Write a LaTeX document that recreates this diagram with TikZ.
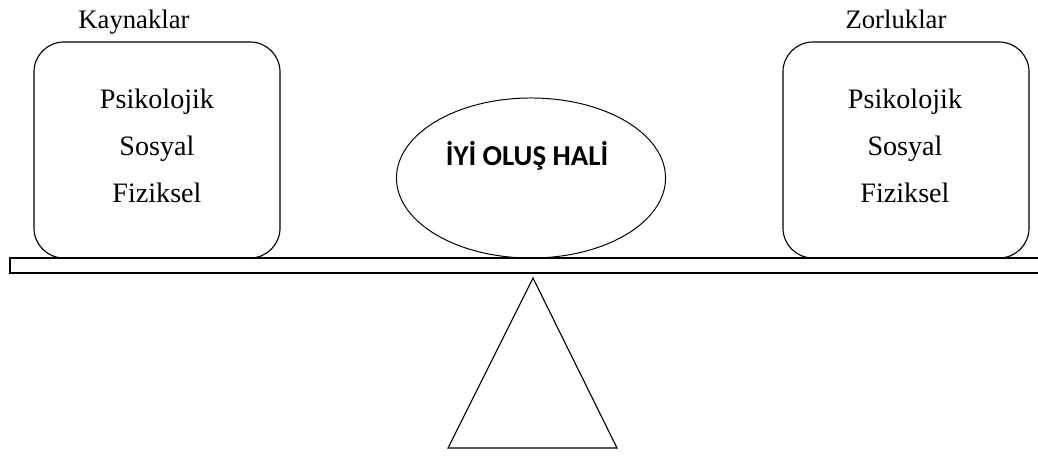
\documentclass[tikz,border=0pt]{standalone}
\usepackage{fontspec}
\setmainfont{Liberation Serif}
\newfontfamily\statefont{Carlito}
\usetikzlibrary{shapes.geometric}
\tikzset{
  panel/.style={draw,line width=0.8pt,rectangle,rounded corners=0.75cm,minimum width=6.15cm,minimum height=5.4cm},
  item/.style={anchor=base,font=\fontsize{20}{23}\selectfont,inner sep=0pt},
  title/.style={anchor=base,font=\fontsize{19}{22}\selectfont,inner sep=0pt}
}
\begin{document}
\begin{tikzpicture}[x=0.025cm,y=-0.025cm]
  \useasboundingbox (0,0) rectangle (1038,455);
  \node[panel] (left) at (157,150) {};
  \node[panel] (right) at (906,150) {};
  \node[title] (lefttitle) at (134,28) {Kaynaklar};
  \node[title] (righttitle) at (896,28) {Zorluklar};
  \node[item] (l1) at (157,108) {Psikolojik};
  \node[item] (l2) at (157,155) {Sosyal};
  \node[item] (l3) at (157,202) {Fiziksel};
  \node[item] (r1) at (905,108) {Psikolojik};
  \node[item] (r2) at (905,155) {Sosyal};
  \node[item] (r3) at (905,202) {Fiziksel};
  \node[draw,line width=0.7pt,ellipse,minimum width=6.725cm,minimum height=4cm] (state) at (531,178) {};
  \node[anchor=base,inner sep=0pt,font=\statefont\bfseries\fontsize{20.5}{24}\selectfont] (statetext) at (527,165) {İYİ OLUŞ HALİ};
  \draw[line width=0.8pt] (10,258) rectangle (1045,273);
  \draw[line width=0.8pt,line join=miter] (533,278) -- (448,448) -- (617,448) -- cycle;
\end{tikzpicture}
\end{document}
